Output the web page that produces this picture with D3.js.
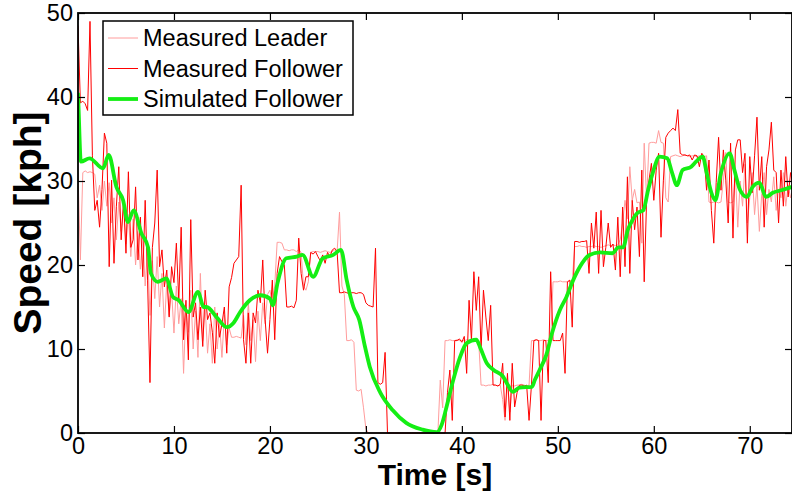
<!DOCTYPE html>
<html>
<head>
<meta charset="utf-8">
<script src="https://cdn.jsdelivr.net/npm/d3@7/dist/d3.min.js"></script>
<style>
  body { margin: 0; background: #fff; }
  svg { display: block; font-family: Arial, "Liberation Sans", sans-serif; }
</style>
</head>
<body>
<svg id="chart" width="792" height="496"></svg>
<script>
// ============== speed traces, sampled every 0.25 s =============================
var sampleStep = 0.25;

var leaderSpeed = [
  31,20.6,31,31.2,31,31.1,31,30.8,28,29.5,26.5,30,27,29.8,25,28,23,27.5,24,27,
  22.5,26,21,25.5,20,24,19.5,23.5,17.5,22,14,20.5,16,21,15,19,12.5,18,14,17,
  11.9,17.5,13,16,7.1,15,12,17,10,14.5,9,19,11,15,9.5,13,8.3,15,10,13,
  9,14,10.5,12.5,11.4,11.4,11.5,11.4,11.3,14,10.5,15.5,11,13.5,8.5,14.5,11,15.5,13,16.5,
  17,15.5,17.5,22.7,22.7,22.6,21.8,21.8,21.7,21.8,21.8,21.6,21.8,21.5,17.5,17,18,21.5,21.6,21.6,
  21.6,21.5,21.6,21.7,21.6,21.5,21.6,21.8,21.6,26.3,17.5,16.5,11,11,11.1,10.8,5.1,5,5.2,3,
  0.5,0,0,0,0,0,0,0,0,0,0,0,0,0,0,0,0,0,0,0,
  0,0,0,0,0,0,0,0,0,0,0,6.3,3,11,11,11.1,11,11,11.1,11,
  11,11,11.1,11,11,11.1,11,11,5.7,5.7,5.6,5.7,5.7,5.8,5.7,5.6,5.7,4,1.5,6,
  2.5,5.7,5.6,5.7,5.7,5.8,5.7,5.6,5.7,11,11,11.1,11,11,11.1,11,11,11,18,18,
  18,18.1,18,18,18,18.1,18,22.2,22.2,22.3,22.2,22.2,22.1,22.2,22.2,22.3,22.2,22.2,22.1,22.2,
  22.3,22.4,22.3,22.4,22.3,22.4,23,25,27.7,25.5,31.7,27.7,29,27.4,27.5,22.6,34.5,27.7,34.5,34.6,
  34.6,34.5,36,34.6,34.5,28,27.5,32.9,33,33.1,33,32.9,33,33.1,33,32.9,33,33,32.9,33,
  33,32.9,33,27.5,27.4,27.5,27.5,27.4,27.5,30,33.4,27.5,27.4,27.5,31,24.5,30,27,32,25,
  28,31,26,29.5,24,28.5,31,26,29,27.5,30.5,26.5,29,28,31,27,29.5,28,29
];

var followerSpeed = [
  48.5,39.3,39.5,39.2,38.4,49,33,26.5,27.7,24.5,29,35.7,34.5,19.8,30.1,20.2,27,31.7,23,27.7,
  21.4,31.1,22.1,23,29.3,20.6,25.7,18.6,27.7,18.2,6,22.1,25,31.3,19.8,21.8,17.4,19.4,13.8,19.8,
  17.9,22.6,15.8,24.5,11.1,15.8,8.7,25.4,13.8,15.5,11.1,15,10.3,17,13.5,14.3,12,8.3,14.3,11.4,
  13,15,9.5,17.4,18.5,20.2,20.6,21,29.5,11.1,8.3,14.3,8.3,14.3,13.1,17,15.5,20.6,13.5,9.5,
  13.5,18.2,11.1,19,21,20.4,20,15,15,15.1,14.9,15.8,23.2,19,17,18.6,18.6,21.5,21.3,21.6,
  21,20.5,21.2,20.2,21.5,21,21.8,22,21.6,16.7,16.7,16.8,16.7,16.6,16.7,16.7,16.6,16.7,16.7,16.5,
  15.5,15.2,15.1,15,22,6,5.8,6,9.6,0,0,0,0,0,0,0,0,0,0,0,
  0,0,0,0,0,0,0,0,0,0,0,0,0,0,4.8,7.5,1.5,11,11,11.2,
  10.8,11.5,7.1,15.8,11,19.2,14.6,18.6,9.9,17,13.8,11,15.2,5.7,5.7,5.6,5.8,8.3,1.9,7.1,
  1.5,8.3,3.1,4.8,5.7,5.7,5.6,5.7,1.5,5.7,11,11.1,11,1.5,11,11,6,19.2,11,11,
  11,11,11.9,7.1,18,18.2,12.6,22.8,22.8,22.7,22.8,22.8,22.9,19,25,22,26.3,19,26.5,19.8,
  22.1,25,22.1,22.5,19.4,25.7,18.6,26.9,19.8,30.5,19,27.7,24.2,26.9,21,31.3,18,27.7,30.1,32.1,
  27.7,31.3,33.3,23.3,30.1,35.2,35.7,36,36.3,36,38.5,33.3,33.1,33.1,33,33.1,32.5,33.1,33,31.7,
  33.3,32.9,28.9,32.5,26.5,22.6,29.8,35.2,28.9,33.7,30.1,25,34.5,23.2,33.7,34.9,34.9,31,33.3,22.6,
  32.9,28.6,33,37.6,28.9,32.9,24.5,31.7,33.7,37,31.3,31,25,31.3,27,32.9,28.1,31,29.5
];

// simulated follower (smooth), read at its turning points
var simTime = [0,0.05,0.3,1.2,2.6,3.2,4.0,4.7,5.2,5.8,6.6,7.3,7.6,8.3,9.2,9.9,10.5,11.5,12.5,13.1,
  13.4,14.5,15.5,16.2,16.9,17.9,19.0,20.0,20.3,20.8,21.7,22.8,23.4,24.5,25.5,26.6,27.4,28.0,28.7,29.3,
  29.9,30.4,31.5,32.8,34.2,35.9,37.4,37.9,38.4,39.1,39.8,40.5,41.5,41.9,42.6,43.3,44.3,44.8,45.3,46.0,
  47.3,47.6,48.1,48.8,49.4,50.2,50.9,51.6,52.3,53.3,54.4,55.7,56.3,56.8,57.3,57.8,58.3,58.9,59.4,59.9,
  60.6,61.4,61.9,62.4,63.0,63.9,64.4,65.1,65.5,66.0,66.4,67.0,67.9,68.4,69.0,69.7,70.3,71.0,71.7,72.4,
  73.3,74.4];
var simSpeed = [40.5,39,32.3,32.7,31.5,33.1,29.3,27.7,25.1,26.5,23.8,22.1,19,18,18.4,16.2,15.8,14.4,16.8,15,
  15,13.7,12.6,13.1,14.4,15.8,16.4,16,15.2,17.9,20.8,21,21.2,18.6,20.8,21.2,21.8,18.2,15,13.5,
  10.3,7.9,4.8,2.7,1.2,0.4,0.1,1,3.1,6.3,9,10.7,11.1,10.2,8.3,7.5,6.7,5.7,4.9,5.4,
  5.5,6.3,7.5,9.3,11.9,14.6,16.2,18.2,19.8,21.2,21.5,21.4,22.1,22.1,24.2,25.4,26.2,26.5,28.9,31,
  32.9,32.7,31,29.5,31.3,31.7,32.3,32.9,31,28.6,27.7,31,33.3,31.3,28.9,28.1,29.3,29.8,28.1,28.6,
  28.9,29.3];

var xTicks = [0,10,20,30,40,50,60,70];
var yTicks = [0,10,20,30,40,50];
var seriesNames = ["Measured Leader","Measured Follower","Simulated Follower"];
var seriesColors = ["#ff9c9c","#ff0000","#14ee14"];
var seriesWidths = [1,1,3.8];

// ============== layout =============================
var plotLeft = 78, plotRight = 792, plotTop = 13, plotBottom = 433;
var svg = d3.select("#chart");

var x = d3.scaleLinear().domain([0, 74.4]).range([plotLeft, plotRight]);
var y = d3.scaleLinear().domain([0, 50]).range([plotBottom, plotTop]);

function toPoints(speeds) {
  return speeds.map(function(v, i) { return [i * sampleStep, v]; });
}
var series = [
  toPoints(leaderSpeed),
  toPoints(followerSpeed),
  simTime.map(function(t, i) { return [t, simSpeed[i]]; })
];

svg.append("clipPath").attr("id", "plotClip")
  .append("rect")
  .attr("x", plotLeft).attr("y", plotTop - 2)
  .attr("width", plotRight - plotLeft).attr("height", plotBottom - plotTop + 4);

var lineRaw = d3.line().x(function(d){ return x(d[0]); }).y(function(d){ return y(d[1]); });
var lineSmooth = d3.line().curve(d3.curveMonotoneX)
  .x(function(d){ return x(d[0]); }).y(function(d){ return y(d[1]); });

var plot = svg.append("g").attr("clip-path", "url(#plotClip)");
series.forEach(function(s, i) {
  plot.append("path")
    .datum(s)
    .attr("fill", "none")
    .attr("stroke", seriesColors[i])
    .attr("stroke-width", seriesWidths[i])
    .attr("stroke-linejoin", "round")
    .attr("d", i == 2 ? lineSmooth : lineRaw);
});

// axes, MATLAB style: ticks point inward on all four sides
var tickFont = "23.5px";
var xAxis = svg.append("g")
  .attr("transform", "translate(0," + plotBottom + ")")
  .call(d3.axisBottom(x).tickValues(xTicks).tickSizeInner(-7).tickSizeOuter(0).tickPadding(4));
var yAxis = svg.append("g")
  .attr("transform", "translate(" + plotLeft + ",0)")
  .call(d3.axisLeft(y).tickValues(yTicks).tickSizeInner(-7).tickSizeOuter(0).tickPadding(5));
var topAxis = svg.append("g")
  .attr("transform", "translate(0," + plotTop + ")")
  .call(d3.axisTop(x).tickValues(xTicks).tickSizeInner(-7).tickSizeOuter(0).tickFormat(""));
var rightAxis = svg.append("g")
  .attr("transform", "translate(" + plotRight + ",0)")
  .call(d3.axisRight(y).tickValues(yTicks).tickSizeInner(-7).tickSizeOuter(0).tickFormat(""));

[xAxis, yAxis, topAxis, rightAxis].forEach(function(a) {
  a.select(".domain").remove();
  a.selectAll("line").attr("stroke", "#000").attr("stroke-width", 1.2);
  a.selectAll("text").attr("font-size", tickFont).attr("fill", "#000")
    .attr("font-family", "Arial, 'Liberation Sans', sans-serif");
});

svg.append("rect")
  .attr("x", plotLeft).attr("y", plotTop)
  .attr("width", plotRight - plotLeft).attr("height", plotBottom - plotTop)
  .attr("fill", "none").attr("stroke", "#000").attr("stroke-width", 1.8);

// axis titles
svg.append("text")
  .attr("x", 435).attr("y", 485)
  .attr("text-anchor", "middle")
  .attr("font-weight", "bold").attr("font-size", "30px")
  .text("Time [s]");
svg.append("text")
  .attr("transform", "translate(41,223) rotate(-90)")
  .attr("text-anchor", "middle")
  .attr("font-weight", "bold").attr("font-size", "39px")
  .text("Speed [kph]");

// legend
var legend = svg.append("g");
legend.append("rect")
  .attr("x", 103).attr("y", 21).attr("width", 250).attr("height", 94)
  .attr("fill", "#fff").attr("stroke", "#000").attr("stroke-width", 1.5);
seriesNames.forEach(function(name, i) {
  var rowY = 38 + i * 30.5;
  legend.append("line")
    .attr("x1", 108).attr("x2", 138).attr("y1", rowY).attr("y2", rowY)
    .attr("stroke", seriesColors[i]).attr("stroke-width", seriesWidths[i]);
  legend.append("text")
    .attr("x", 143).attr("y", rowY).attr("dy", "0.35em")
    .attr("font-size", tickFont)
    .text(name);
});
</script>
</body>
</html>
